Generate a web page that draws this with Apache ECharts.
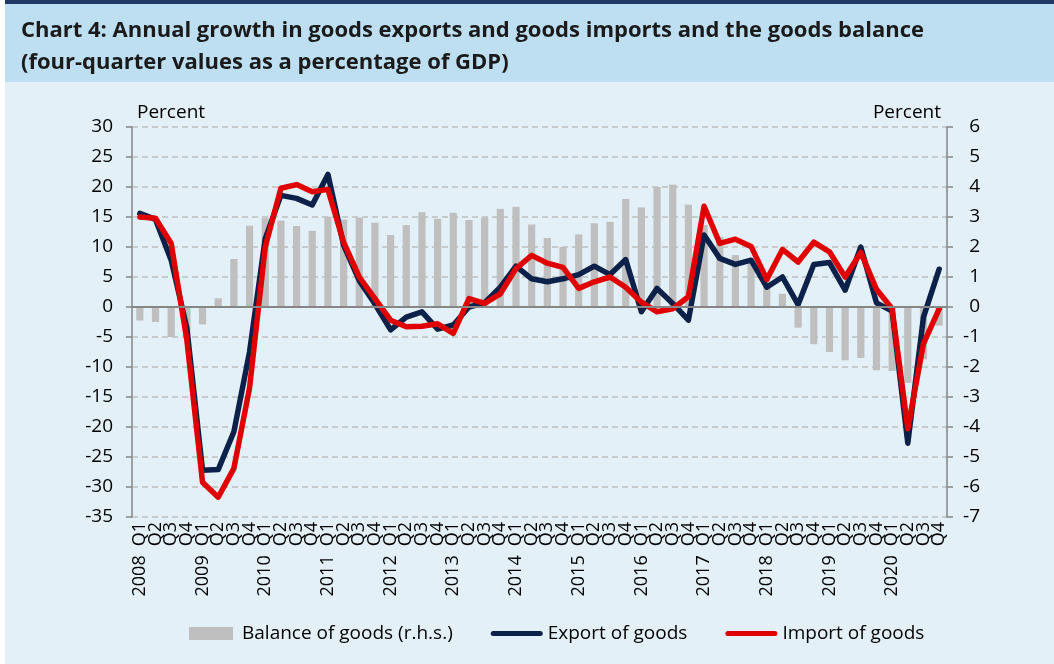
<!DOCTYPE html>
<html>
<head>
<meta charset="utf-8">
<script src="https://cdn.jsdelivr.net/npm/echarts@6/dist/echarts.min.js"></script>
<style>
html,body{margin:0;padding:0;background:#ffffff;}
#chart{width:1054px;height:664px;}
</style>
</head>
<body>
<div id="chart"></div>
<script>
var years = ['2008','2009','2010','2011','2012','2013','2014','2015','2016','2017','2018','2019','2020'];
var quarters = ['Q1','Q2','Q3','Q4'];
var leftTicks = {min:-35, max:30, interval:5};
var rightTicks = {min:-7, max:6, interval:1};

var exportGoods = [15.6,14.6,7.8,-3.5, -27.2,-27.1,-20.8,-7.5, 11.4,18.6,18.1,17.0, 22.1,10.3,4.4,0.5,
  -3.8,-1.7,-0.8,-3.7, -3.0,0.0,0.7,3.3, 6.8,4.7,4.2,4.7, 5.4,6.8,5.4,7.9,
  -0.8,3.1,0.6,-2.2, 12.0,8.1,7.1,7.8, 3.3,5.0,0.4,7.1, 7.4,2.8,10.0,0.7, -0.7,-22.7,-1.7,6.3];
var importGoods = [15.0,14.8,10.6,-5.5, -29.2,-31.7,-26.9,-13.5, 10.0,19.8,20.4,19.2, 19.6,10.8,5.0,1.4,
  -2.2,-3.3,-3.2,-2.8, -4.4,1.4,0.6,2.2, 6.4,8.6,7.3,6.6, 3.1,4.2,5.0,3.3,
  0.8,-0.8,-0.3,1.7, 16.8,10.6,11.3,10.1, 4.6,9.6,7.5,10.8, 9.2,5.0,9.1,2.95, -0.3,-20.3,-6.1,-0.3];
var balanceGoods = [-0.45,-0.5,-1.0,-0.92, -0.58,0.29,1.6,2.71, 2.96,2.88,2.7,2.54, 3.01,2.92,2.98,2.81,
  2.4,2.73,3.16,2.94, 3.14,2.9,2.98,3.27, 3.34,2.75,2.3,2.0, 2.42,2.79,2.84,3.6,
  3.32,4.0,4.08,3.41, 2.73,2.34,1.73,1.46, 0.95,0.44,-0.69,-1.24, -1.5,-1.78,-1.7,-2.11, -2.13,-2.53,-1.74,-0.62];

var categories = [];
years.forEach(function(y){ quarters.forEach(function(q){ categories.push(q === 'Q1' ? y + ' ' + q : q); }); });

var FONT = 'Open Sans';
var LINE_ICON = 'path://M2.5,0 L49.5,0 A2.5,2.5 0 0 1 49.5,5 L2.5,5 A2.5,2.5 0 0 1 2.5,0 Z';
var RECT_ICON = 'path://M0,0 L44,0 L44,13 L0,13 Z';
var chart = echarts.init(document.getElementById('chart'), null, {renderer:'canvas'});
var option = {
  backgroundColor: '#ffffff',
  animation: false,
  textStyle: {fontFamily: FONT},
  graphic: [
    {type:'rect', left:5, top:0, shape:{width:1049, height:664}, style:{fill:'#E3F0F7'}, z:-10},
    {type:'rect', left:5, top:0, shape:{width:1049, height:4}, style:{fill:'#1F3864'}, z:-9},
    {type:'rect', left:5, top:4, shape:{width:1049, height:78}, style:{fill:'#BDDFF1'}, z:-9},
    {type:'text', left:21, top:20, style:{text:'Chart 4: Annual growth in goods exports and goods imports and the goods balance', font:'bold 22px "Open Sans"', fill:'#1a1a1a'}},
    {type:'text', left:21, top:52, style:{text:'(four-quarter values as a percentage of GDP)', font:'bold 22px "Open Sans"', fill:'#1a1a1a'}}
  ],
  grid: {left:132, right:107, top:127, bottom:147, containLabel:false},
  legend: {
    left: 184, top: 619, itemWidth: 52, itemHeight: 13, itemGap: 38, symbolKeepAspect: true,
    textStyle: {fontSize: 19, color:'#000', fontFamily: FONT},
    data: [
      {name:'Balance of goods (r.h.s.)', icon: RECT_ICON},
      {name:'Export of goods', icon: LINE_ICON},
      {name:'Import of goods', icon: LINE_ICON}
    ]
  },
  xAxis: {
    type: 'category', data: categories, boundaryGap: true,
    axisLine: {show:false, onZero:false},
    axisTick: {show:false},
    axisLabel: {
      interval: 0, rotate: 90, margin: 5, color:'#000', fontSize: 18, fontFamily: FONT,
      formatter: function(v){
        var p = v.split(' ');
        if (p.length === 2) return '{y|' + p[0] + '}{s| }{q|' + p[1] + '}';
        return '{q|' + v + '}';
      },
      rich: {y:{fontSize:18, fontFamily:FONT, color:'#000'}, q:{fontSize:18, fontFamily:FONT, color:'#000'}, s:{fontSize:18, width:9}}
    },
    splitLine: {show:false}
  },
  yAxis: [
    {
      type:'value', position:'left', min:leftTicks.min, max:leftTicks.max, interval:leftTicks.interval,
      name:'Percent', nameLocation:'end', nameGap:5,
      nameTextStyle:{align:'left', fontSize:19, color:'#000', fontFamily:FONT, padding:[0,0,0,5]},
      axisLine:{show:true, lineStyle:{color:'#868686', width:1.5}},
      axisTick:{show:true, inside:false, length:6, lineStyle:{color:'#868686', width:1.5}},
      axisLabel:{color:'#000', fontSize:19, margin:19, fontFamily:FONT},
      splitLine:{show:true, lineStyle:{color:'#BFBFBF', width:1.5, type:[6,4]}}
    },
    {
      type:'value', position:'right', min:rightTicks.min, max:rightTicks.max, interval:rightTicks.interval,
      name:'Percent', nameLocation:'end', nameGap:5,
      nameTextStyle:{align:'right', fontSize:19, color:'#000', fontFamily:FONT, padding:[0,6,0,0]},
      axisLine:{show:true, lineStyle:{color:'#868686', width:1.5}},
      axisTick:{show:true, inside:false, length:6, lineStyle:{color:'#868686', width:1.5}},
      axisLabel:{color:'#000', fontSize:19, margin:33, align:'right', fontFamily:FONT},
      splitLine:{show:false}
    }
  ],
  series: [
    {
      name:'Balance of goods (r.h.s.)', type:'bar', yAxisIndex:1, data: balanceGoods,
      barWidth:'46%', itemStyle:{color:'#BFBFBF'}, z:2,
      markLine:{silent:true, symbol:['none','none'], label:{show:false},
        lineStyle:{color:'#868686', width:2, type:'solid'}, data:[{yAxis:0}]}
    },
    {
      name:'Export of goods', type:'line', yAxisIndex:0, data: exportGoods,
      symbol:'none', showSymbol:false, lineStyle:{color:'#0C2149', width:5.5, join:'round', cap:'round'},
      itemStyle:{color:'#0C2149'}, z:3
    },
    {
      name:'Import of goods', type:'line', yAxisIndex:0, data: importGoods,
      symbol:'none', showSymbol:false, lineStyle:{color:'#E00000', width:5.5, join:'round', cap:'round'},
      itemStyle:{color:'#E00000'}, z:4
    }
  ]
};
chart.setOption(option);
</script>
</body>
</html>
